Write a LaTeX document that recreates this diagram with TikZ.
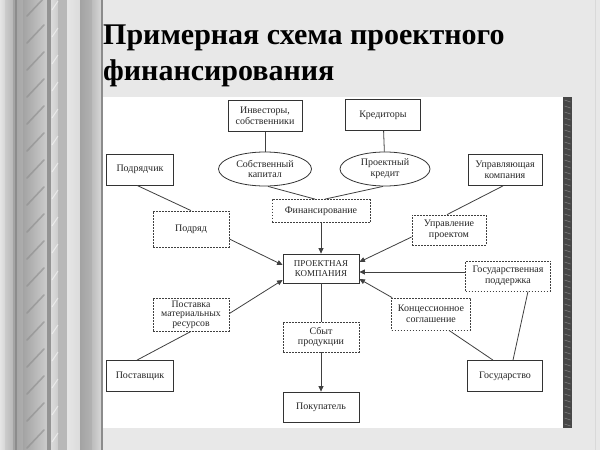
\documentclass[tikz,border=0pt]{standalone}
\usepackage{fontspec}
\setmainfont{Liberation Serif}
\usetikzlibrary{arrows.meta,shapes.geometric,calc}
\begin{document}
\begin{tikzpicture}[x=1pt,y=-1pt,
  txt/.style={font=\fontsize{10}{10.8}\selectfont, text=black!85, align=center, inner sep=0pt},
  solidbox/.style={txt, draw=black!80, line width=0.8pt},
  dashbox/.style={txt, draw=black!75, line width=0.8pt, dash pattern=on 1.6pt off 1.4pt},
  oval/.style={txt, ellipse, draw=black!80, line width=0.8pt},
  link/.style={draw=black!75, line width=0.8pt},
  arr/.style={link, -{Triangle[length=5.5pt,width=5pt]}},
]
\useasboundingbox (0,0) rectangle (600,450);
% background
\fill[black!9] (0,0) rectangle (600,450);
% left decorative strip
\shade[left color=black!10, right color=black!16] (0,0) rectangle (5,450);
\shade[left color=black!20, right color=black!28] (5,0) rectangle (13,450);
\shade[left color=black!36, right color=black!32] (13,0) rectangle (23,450);
\fill[black!45] (15,0) rectangle (16.5,450);
\shade[left color=black!36, right color=black!20] (23,0) rectangle (47,450);
\fill[black!42] (47,0) rectangle (51,450);
\shade[left color=black!14, right color=black!20] (51,0) rectangle (58,450);
\fill[black!28] (58,0) rectangle (67,450);
\shade[left color=black!10, right color=black!14] (67,0) rectangle (80,450);
\shade[left color=black!36, right color=black!30] (80,0) rectangle (92,450);
\shade[left color=black!26, right color=black!16] (92,0) rectangle (101,450);
\fill[black!45] (101,0) rectangle (102.5,450);
\foreach \y in {0,27,...,460} {
  \draw[black!45, line width=1.6pt, line cap=round, opacity=0.6] (27,\y+16) -- (44,\y-2);
  \draw[white, line width=1.1pt, opacity=0.5] (52,\y+10) -- (58,\y+1);
}
\draw[black!15, line width=0.8pt] (595,0) -- (595,450);
% white panel
\fill[white] (102.5,97) rectangle (566,428);
\fill[black!72] (563,97) rectangle (572,428);
\foreach \y in {100,106,...,424} {\draw[black!50, line width=0.6pt] (564.5,\y) -- (570.5,\y+2);}
% title
\node[anchor=base west, inner sep=0pt, font=\fontsize{30}{30}\selectfont\bfseries] (t1) at (103,44) {Примерная схема проектного};
\node[anchor=base west, inner sep=0pt, font=\fontsize{30}{30}\selectfont\bfseries] (t2) at (103,80) {финансирования};
% nodes
\node[solidbox, minimum width=74, minimum height=31] (inv) at (265,116) {Инвесторы,\\собственники};
\node[solidbox, minimum width=75, minimum height=31] (kred) at (383,115) {Кредиторы};
\node[solidbox, minimum width=67, minimum height=31] (podr) at (140,169.5) {Подрядчик};
\node[oval, minimum width=93, minimum height=34] (ekap) at (265,169) {Собственный\\капитал};
\node[oval, minimum width=90, minimum height=34] (pkred) at (385,169) {Проектный\\кредит};
\node[solidbox, minimum width=74, minimum height=31] (uprk) at (505,170) {Управляющая\\компания};
\node[dashbox, minimum width=98, minimum height=23] (fin) at (321,211) {Финансирование};
\node[dashbox, minimum width=76, minimum height=36] (podryad) at (191,229) {Подряд};
\node[dashbox, minimum width=74, minimum height=30] (uprp) at (449,230) {Управление\\проектом};
\node[solidbox, minimum width=76, minimum height=29, font=\fontsize{9}{10.5}\selectfont] (pk) at (321,268.5) {ПРОЕКТНАЯ\\КОМПАНИЯ};
\node[dashbox, minimum width=85, minimum height=30] (gosp) at (508,276) {Государственная\\поддержка};
\node[dashbox, minimum width=76, minimum height=33, font=\fontsize{9.8}{9.6}\selectfont] (post) at (191,314.5) {Поставка\\материальных\\ресурсов};
\node[dashbox, minimum width=79, minimum height=32] (konc) at (431,314) {Концессионное\\соглашение};
\node[dashbox, minimum width=76, minimum height=30] (sbyt) at (321,337) {Сбыт\\продукции};
\node[solidbox, minimum width=67, minimum height=31] (postav) at (140,376) {Поставщик};
\node[solidbox, minimum width=75, minimum height=31] (gos) at (505,376) {Государство};
\node[solidbox, minimum width=76, minimum height=30] (pok) at (321,407) {Покупатель};
% connectors
\draw[link] (inv) -- (ekap);
\draw[link] (kred) -- (pkred);
\draw[link] ($(ekap.south)+(3,0)$) -- ($(fin.north)+(-6,0)$);
\draw[link] ($(pkred.south)+(-2,0)$) -- ($(fin.north)+(4,0)$);
\draw[arr] (fin) -- (pk);
\draw[link] ($(podr.south)+(-3,0)$) -- (podryad.north);
\draw[arr] ($(podryad.east)+(0,10)$) -- ($(pk.west)+(0,-3.5)$);
\draw[arr] ($(post.east)+(0,-1)$) -- ($(pk.west)+(0,11.5)$);
\draw[link] ($(postav.north)+(-3,0)$) -- (post.south);
\draw[link] ($(uprk.south)+(-2,0)$) -- ($(uprp.north)+(-2,0)$);
\draw[arr] ($(uprp.west)+(0,7)$) -- ($(pk.east)+(0,-6.5)$);
\draw[arr] ($(gosp.west)+(0,-4)$) -- ($(pk.east)+(0,3.5)$);
\draw[arr] ($(konc.north west)+(1,0)$) -- ($(pk.east)+(0,10.5)$);
\draw[link] ($(gos.north)+(-12,0)$) -- ($(konc.south)+(18,0)$);
\draw[link] ($(gos.north)+(8,0)$) -- ($(gosp.south)+(20,0)$);
\draw[link] (pk) -- (sbyt);
\draw[arr] (sbyt) -- (pok);
\end{tikzpicture}
\end{document}
